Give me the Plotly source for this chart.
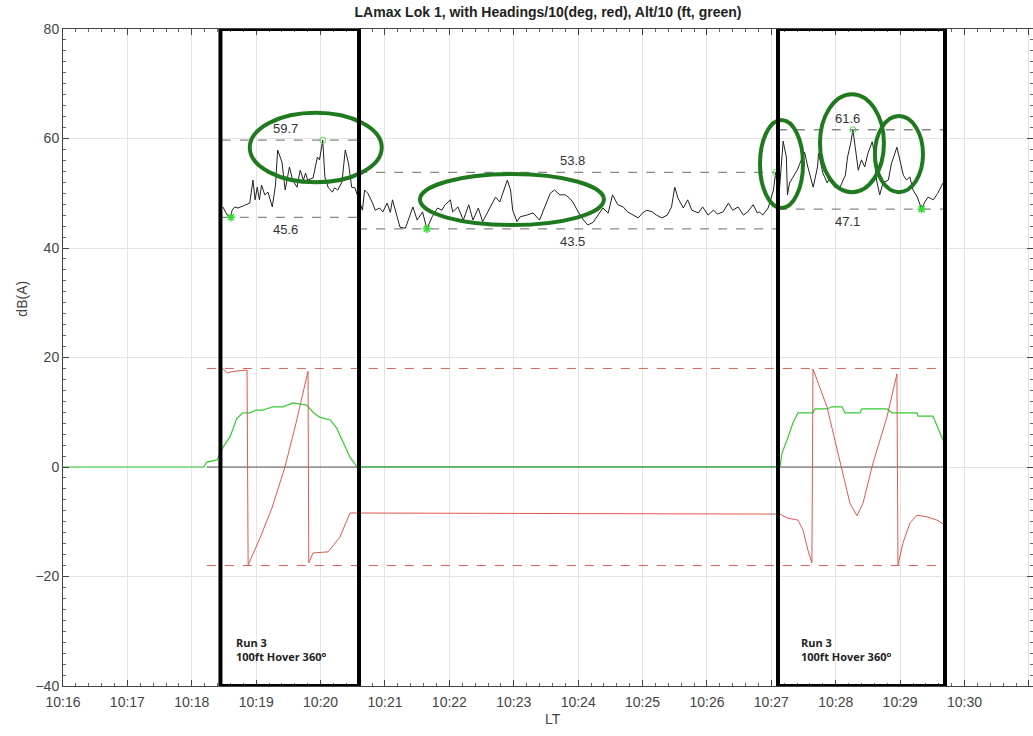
import pandas as pd
import plotly.graph_objects as go

BASE = pd.Timestamp("2020-01-01 10:16:00")

# ---- LAmax (black), seconds after 10:16:00 and dB(A) ----
runA_sec = [149, 153, 156.5, 157.5, 160, 163, 168, 174, 177, 179, 181, 183, 185, 188, 191, 195, 198, 200,
            204, 207, 211, 214, 218, 221, 224, 226, 228, 233, 237, 239, 242, 244, 247, 251, 253, 256, 260,
            263, 266, 269, 272, 275]
runA_db = [47.5, 46.0, 45.6, 46.9, 47.5, 47.3, 47.7, 48.2, 52.4, 48.8, 51.1, 48.8, 51.5, 49.7, 50.2, 47.5,
           51.5, 57.9, 55.7, 50.6, 54.8, 52.4, 51.1, 54.2, 52.4, 53.7, 52.4, 52.8, 56.6, 56.1, 59.7, 53.0,
           51.1, 50.2, 51.0, 50.6, 52.1, 57.9, 55.5, 51.1, 51.0, 49.3]
mid_sec = [279, 281, 284, 288, 291, 295, 298, 302, 305, 307, 311, 314, 319, 323, 326, 330, 335, 339, 344,
           349, 353, 356, 361, 363, 368, 373, 378, 382, 387, 391, 398, 403, 407, 410, 414, 417, 419, 423,
           426, 432, 438, 444, 449, 454, 458, 463, 468, 472, 475, 480, 485, 489, 494, 500, 503, 508, 512,
           517, 522, 526, 531, 536, 540, 544, 549, 553, 558, 563, 567, 570, 573, 578, 582, 586, 592, 596,
           601, 606, 610, 615, 620, 624, 629, 634, 638, 643, 647, 649, 652, 657, 662, 664]
mid_db = [46.9, 50.6, 50.0, 48.4, 46.9, 47.3, 46.6, 48.2, 46.5, 48.8, 46.0, 43.8, 43.6, 45.7, 47.5, 45.1,
          46.6, 43.5, 45.7, 47.3, 46.9, 47.9, 48.8, 46.6, 47.5, 45.1, 47.9, 45.1, 47.3, 44.8, 47.5, 49.3,
          48.4, 50.0, 52.4, 50.6, 46.9, 44.8, 45.7, 46.0, 46.4, 45.1, 47.5, 50.0, 50.6, 49.7, 49.7, 49.1,
          48.4, 46.6, 45.1, 44.2, 44.7, 46.6, 47.3, 46.4, 49.7, 47.9, 47.5, 46.6, 46.0, 45.5, 46.4, 46.9,
          46.6, 46.0, 45.5, 46.0, 47.5, 51.1, 49.1, 47.3, 48.8, 46.9, 46.4, 47.5, 46.0, 46.9, 46.2, 46.6,
          48.2, 46.9, 47.5, 46.0, 46.6, 47.9, 46.4, 46.6, 46.0, 47.3, 50.6, 53.8]
runB_sec = [667, 671, 674, 675, 677, 680, 684, 689, 691, 694, 699, 703, 704, 708, 712, 715, 719, 724, 729,
            731, 734, 736, 739, 741, 744, 747, 750, 754, 756, 758, 761, 764, 769, 772, 777, 780, 783, 786,
            789, 792, 796, 800, 803, 806, 811, 815, 820]
runB_db = [49.3, 59.5, 56.6, 49.7, 51.9, 53.0, 54.2, 56.6, 57.5, 54.8, 51.1, 54.8, 57.3, 53.7, 51.9, 53.0,
           51.1, 51.1, 53.3, 56.6, 59.2, 61.6, 57.3, 54.2, 56.1, 54.8, 57.3, 59.4, 57.3, 52.4, 49.7, 51.9,
           52.4, 55.5, 58.4, 56.1, 53.3, 52.4, 53.0, 50.6, 49.3, 47.1, 48.4, 49.3, 48.8, 50.0, 51.9]

# ---- Heading/10 (red) ----
hdg_sec = [148, 153, 160, 168, 171.5, 172.5, 183.5, 194.7, 206.8, 217.1, 228.3, 229, 233, 247, 258, 267.4,
           665, 668, 674.6, 684.8, 689.5, 694.1, 697.8, 698.8, 711.8, 723.9, 733.2, 739.8, 745.4, 754.7,
           767.7, 777, 778, 782.6, 789.2, 795.7, 805, 814.3, 820]
hdg_val = [18.1, 17.2, 17.5, 17.7, 17.7, -17.9, -13.0, -7.5, 0.0, 8.0, 17.5, -17.5, -15.7, -15.5, -12.8,
           -8.4, -8.6, -8.6, -9.3, -9.7, -11.5, -15.2, -17.5, 17.9, 11.0, 1.3, -6.6, -8.9, -6.6, 0.7, 9.1,
           17.0, -17.9, -13.9, -10.2, -8.8, -9.1, -9.7, -10.4]

# ---- Altitude/10 (green) ----
alt_sec = [0, 131, 134, 143.5, 149, 155.6, 162, 167.7, 174, 180, 186, 195.7, 205, 214, 227, 233, 239, 249,
           255, 261, 267.4, 274, 668, 670, 674.6, 680, 684.8, 698.8, 700.6, 711.8, 716.5, 725.8, 728.6,
           742.6, 744.4, 767.7, 772.4, 795.7, 796.6, 810.6, 815.2, 820]
alt_val = [0, 0, 0.9, 1.3, 3.6, 5.5, 8.9, 9.9, 9.9, 10.4, 10.4, 11.0, 11.0, 11.7, 11.3, 10.0, 9.1, 8.6,
           7.1, 4.4, 1.8, 0.0, 0.0, 2.6, 4.9, 8.0, 9.9, 9.9, 10.6, 10.6, 11.0, 11.0, 9.9, 9.9, 10.6, 10.6,
           9.9, 9.9, 9.3, 9.3, 7.3, 4.9]

# ---- segment statistics ----
seg_start = [148, 275, 666]
seg_end = [275, 666, 822]
seg_max = [59.7, 53.8, 61.6]
seg_min = [45.6, 43.5, 47.1]
seg_label_sec = [207, 475, 731]
max_sec = [242, 664, 736]
min_sec = [156.5, 339, 800]

ref_span = [134, 822]
hdg_limits = [18, -18]

runs_sec = [[146.7, 275.8], [666.2, 821.8]]
run_text = "<b>Run 3<br>100ft Hover 360<sup>o</sup></b>"
run_text_sec = [159, 686]

ellipses = [  # (sec0, sec1, db0, db1)
    (174, 297, 52.0, 64.7),
    (332.6, 504, 44.2, 53.5),
    (649.4, 689.5, 47.3, 63.4),
    (705.3, 764.9, 50.2, 68.1),
    (756.5, 801.3, 50.2, 64.1),
]


def T(s):
    return BASE + pd.to_timedelta(s, unit="s")


def ts(s):
    return T(s).strftime("%Y-%m-%d %H:%M:%S.%f")


fig = go.Figure()

# zero line
fig.add_trace(go.Scatter(x=T(pd.Series(ref_span)), y=[0, 0], mode="lines",
                         line=dict(color="#555555", width=1), hoverinfo="skip"))
# heading limits
for v in hdg_limits:
    fig.add_trace(go.Scatter(x=T(pd.Series(ref_span)), y=[v, v], mode="lines",
                             line=dict(color="#d0625c", width=1, dash="dash"), hoverinfo="skip"))
# altitude
fig.add_trace(go.Scatter(x=T(pd.Series(alt_sec)), y=alt_val, mode="lines",
                         line=dict(color="#33cc33", width=1.2)))
# heading
fig.add_trace(go.Scatter(x=T(pd.Series(hdg_sec)), y=hdg_val, mode="lines",
                         line=dict(color="#e0584f", width=1)))
# LAmax
spl_sec = runA_sec + mid_sec + runB_sec
spl_db = runA_db + mid_db + runB_db
fig.add_trace(go.Scatter(x=T(pd.Series(spl_sec)), y=spl_db, mode="lines",
                         line=dict(color="#222222", width=1)))
# segment max/min dashed lines
for a, b, mx, mn in zip(seg_start, seg_end, seg_max, seg_min):
    for v in (mx, mn):
        fig.add_trace(go.Scatter(x=T(pd.Series([a, b])), y=[v, v], mode="lines",
                                 line=dict(color="#888888", width=1.3, dash="dash"), hoverinfo="skip"))
# markers
fig.add_trace(go.Scatter(x=T(pd.Series(max_sec)), y=seg_max, mode="markers",
                         marker=dict(symbol="circle-open", size=6, color="#55dd55", line=dict(width=1))))
fig.add_trace(go.Scatter(x=T(pd.Series(min_sec)), y=seg_min, mode="markers",
                         marker=dict(symbol="asterisk-open", size=7, color="#33dd33", line=dict(width=1.5))))

annotations = []
for sx, mx, mn in zip(seg_label_sec, seg_max, seg_min):
    annotations.append(dict(x=ts(sx), y=mx + 2.1, text=f"{mx:.1f}", showarrow=False,
                            font=dict(size=13, color="#333333", family="Liberation Sans")))
    annotations.append(dict(x=ts(sx), y=mn - 2.3, text=f"{mn:.1f}", showarrow=False,
                            font=dict(size=13, color="#333333", family="Liberation Sans")))
for sx in run_text_sec:
    annotations.append(dict(x=ts(sx), y=-33.3, text=run_text, showarrow=False, xanchor="left",
                            align="left", font=dict(size=11, color="#222222", family="Open Sans")))
annotations.append(dict(xref="paper", yref="paper", x=-0.042, y=0.59, xanchor="center", yanchor="middle",
                        text="dB(A)", textangle=-90, showarrow=False,
                        font=dict(size=14, color="#444444", family="Liberation Sans")))
annotations.append(dict(xref="paper", yref="paper", x=0.505, y=-0.0502, xanchor="center", yanchor="middle",
                        text="LT", showarrow=False,
                        font=dict(size=14, color="#444444", family="Liberation Sans")))

shapes = []
for s0, s1, d0, d1 in ellipses:
    shapes.append(dict(type="circle", xref="x", yref="y", x0=ts(s0), x1=ts(s1), y0=d0, y1=d1,
                       line=dict(color="#1f7a1f", width=4)))
for a, b in runs_sec:
    shapes.append(dict(type="rect", xref="x", yref="y", x0=ts(a), x1=ts(b), y0=-40, y1=80,
                       line=dict(color="black", width=4)))

fig.update_layout(
    width=1033, height=736,
    margin=dict(l=63, r=0, t=29, b=50),
    paper_bgcolor="white", plot_bgcolor="white",
    showlegend=False,
    font=dict(family="Liberation Sans", color="#444444"),
    title=dict(text="<b>LAmax Lok 1, with Headings/10(deg, red), Alt/10 (ft, green)</b>",
               x=0.5, xref="paper", y=1 - 12 / 736, yanchor="middle",
               font=dict(size=14, color="#222222", family="Liberation Sans")),
    annotations=annotations,
    shapes=shapes,
)
fig.update_xaxes(
    type="date", range=[ts(0), ts(903.8)], tickformat="%H:%M", dtick=60000,
    tick0=ts(0), showgrid=True, gridcolor="#e4e4e4", gridwidth=1,
    ticks="inside", ticklen=6, tickcolor="#444444", showline=True, linecolor="#444444",
    mirror="ticks", tickfont=dict(size=14, color="#444444"), ticklabelstandoff=3,
    minor=dict(ticks="inside", ticklen=3, dtick=12000, tickcolor="#666666", showgrid=False),
    zeroline=False,
)
fig.update_yaxes(
    range=[-40, 80], dtick=20, showgrid=True, gridcolor="#e4e4e4", gridwidth=1,
    ticks="inside", ticklen=6, tickcolor="#444444", showline=True, linecolor="#444444",
    mirror="ticks", tickfont=dict(size=14, color="#444444"),
    minor=dict(ticks="inside", ticklen=3, dtick=2, tickcolor="#666666", showgrid=False),
    zeroline=False,
)

fig.write_html("out.html")
